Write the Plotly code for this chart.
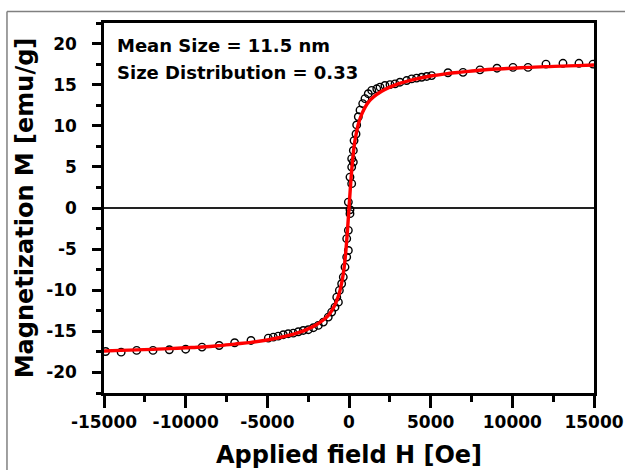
import plotly.graph_objects as go

# Measured data (open circles)
H_meas = [-14900, -13950, -13000, -12000, -11000, -10000, -9000, -7950, -7000, -6000,
          -4940, -4630, -4330, -4020, -3720, -3410, -3100, -2800, -2490, -2180,
          -1880, -1570, -1270, -1060, -860, -650,
          -750, -590, -450, -350, -245, -140, -40, -140, -40, 60, 60, -40, 165, 60, 165, 265,
          165, 265, 310, 430, 470, 570, 675, 840, 980, 1180, 1390, 1700, 1900, 2200,
          2510, 2820, 3120, 3530, 3840, 4140, 4450, 4760, 5060,
          6060, 6980, 8020, 9060, 10040, 10960, 12060, 13100, 14080, 14940]
M_meas = [-17.45, -17.53, -17.32, -17.32, -17.24, -17.17, -16.92, -16.72, -16.39, -16.11,
          -15.83, -15.71, -15.58, -15.41, -15.29, -15.22, -15.05, -14.89, -14.80, -14.56,
          -14.28, -13.88, -13.27, -12.66, -12.06, -11.45,
          -10.84, -10.02, -9.21, -8.40, -7.18, -5.97, -5.16, -3.73, -2.72, -0.69, -0.21, 0.72, 2.96, 3.76, 4.98, 5.59,
          6.0, 7.0, 8.2, 9.0, 10.1, 11.1, 11.9, 12.7, 13.3, 13.9, 14.3, 14.5, 14.7, 14.9,
          15.0, 15.1, 15.3, 15.5, 15.7, 15.8, 15.9, 16.0, 16.1,
          16.45, 16.5, 16.8, 17.0, 17.1, 17.1, 17.5, 17.6, 17.6, 17.5]

# Fitted curve (red line)
H_fit = [-15000, -14000, -13000, -12000, -11000, -10000, -9000, -8000, -7000, -6000,
         -5000, -4000, -3000, -2500, -2000, -1500, -1200, -1000, -800, -600, -400, -300,
         -200, -100, 0, 100, 200, 300, 400, 600, 800, 1000, 1200, 1500, 2000, 2500, 3000,
         4000, 5000, 6000, 7000, 8000, 9000, 10000, 11000, 12000, 13000, 14000, 15000]
M_fit = [-17.4, -17.32, -17.25, -17.2, -17.1, -17.0, -16.9, -16.75, -16.55, -16.35,
         -16.05, -15.65, -15.1, -14.7, -14.2, -13.5, -12.9, -12.3, -11.5, -10.4, -8.6, -7.3,
         -5.4, -2.9, 0.0, 2.9, 5.4, 7.3, 8.6, 10.4, 11.5, 12.3, 12.9, 13.5, 14.2, 14.7, 15.1,
         15.65, 16.05, 16.35, 16.55, 16.75, 16.9, 17.0, 17.1, 17.2, 17.25, 17.32, 17.4]

x_ticks = [-15000, -10000, -5000, 0, 5000, 10000, 15000]
y_ticks = [-20, -15, -10, -5, 0, 5, 10, 15, 20]
annot_lines = ["Mean Size = 11.5 nm", "Size Distribution = 0.33"]

FONT = "DejaVu Sans"

fig = go.Figure()
fig.add_trace(go.Scatter(x=H_meas, y=M_meas, mode="markers",
                         marker=dict(symbol="circle-open", size=7.5, color="black",
                                     line=dict(width=1.4, color="black")),
                         showlegend=False))
fig.add_trace(go.Scatter(x=H_fit, y=M_fit, mode="lines", line_shape="spline",
                         line=dict(color="#ff0000", width=3.4), showlegend=False))

axis_common = dict(showgrid=False, showline=True, linecolor="black", linewidth=2.5,
                   mirror=True, ticks="outside", tickcolor="black", tickwidth=2.5,
                   automargin=False,
                   tickfont=dict(family=FONT, size=17, color="black", weight="bold"))

fig.update_xaxes(range=[-15000, 15000], tickvals=x_ticks,
                 ticktext=[str(v) for v in x_ticks], ticklen=12,
                 minor=dict(ticks="outside", dtick=2500, ticklen=6, tickwidth=2.5, tickcolor="black"),
                 zeroline=False,
                 title=dict(text="Applied field H [Oe]", standoff=16,
                            font=dict(family=FONT, size=24, color="black", weight="bold")),
                 **axis_common)
fig.update_yaxes(range=[-22.5, 22.5], tickvals=y_ticks,
                 ticktext=[str(v) for v in y_ticks], ticklen=9,
                 ticklabelstandoff=12,
                 minor=dict(ticks="outside", dtick=2.5, ticklen=5, tickwidth=2.5, tickcolor="black"),
                 zeroline=True, zerolinecolor="#222222", zerolinewidth=1.5,
                 title=dict(text="Magnetization M [emu/g]", standoff=6,
                            font=dict(family=FONT, size=24, color="black", weight="bold")),
                 **axis_common)

for i, txt in enumerate(annot_lines):
    fig.add_annotation(text=txt, xref="paper", yref="paper", x=0.022, y=0.94 - i * 0.073,
                       xanchor="left", yanchor="middle", showarrow=False,
                       font=dict(family=FONT, size=18, color="black", weight="bold"))

# outer frame (gray)
fig.add_shape(type="line", xref="paper", yref="paper", x0=-0.198, x1=1.2, y0=1.031, y1=1.031,
              line=dict(color="#808080", width=1.5))
fig.add_shape(type="line", xref="paper", yref="paper", x0=-0.198, x1=-0.198, y0=1.031, y1=-0.3,
              line=dict(color="#808080", width=1.5))

fig.update_layout(width=625, height=470, margin=dict(l=104, r=31, t=23, b=77),
                  plot_bgcolor="white", paper_bgcolor="white")

fig.write_html("out.html")
